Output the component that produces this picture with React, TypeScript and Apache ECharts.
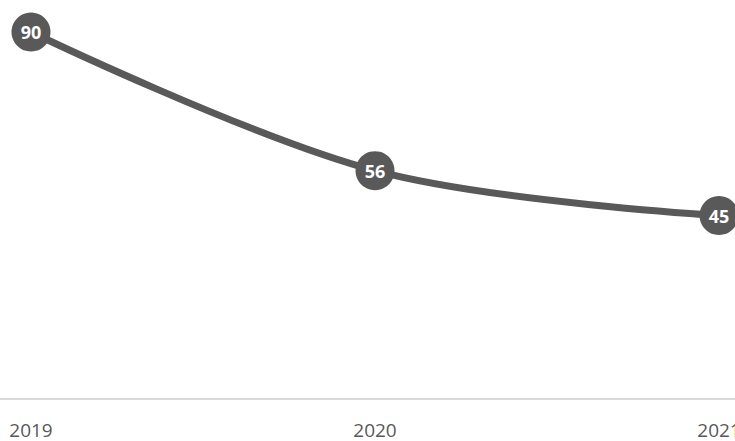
import React, { useEffect, useRef } from "react";
import * as echarts from "echarts";

const categories = ["2019", "2020", "2021"];
const values = [90, 56, 45];

export default function App() {
  const ref = useRef<HTMLDivElement>(null);
  useEffect(() => {
    if (!ref.current) return;
    const chart = echarts.init(ref.current, undefined, { renderer: "svg" });
    chart.setOption({
      animation: false,
      grid: { left: 0, right: 0, top: 32, bottom: 42, containLabel: false },
      xAxis: {
        type: "category",
        data: categories,
        boundaryGap: true,
        axisLine: { show: true, lineStyle: { color: "#d9d9d9", width: 2 } },
        axisTick: { show: false },
        axisLabel: {
          color: "#595959",
          fontSize: 19,
          fontFamily: "Open Sans",
          margin: 21,
        },
        splitLine: { show: false },
      },
      yAxis: {
        type: "value",
        min: 0,
        max: 90,
        show: false,
        splitLine: { show: false },
      },
      series: [
        {
          type: "line",
          data: values,
          smooth: 0.35,
          symbol: "circle",
          symbolSize: 39,
          lineStyle: { color: "#595959", width: 7 },
          itemStyle: { color: "#595959" },
          label: {
            show: true,
            position: "inside",
            color: "#ffffff",
            fontWeight: "bold",
            fontSize: 18,
            fontFamily: "Open Sans",
          },
        },
      ],
    });
    return () => chart.dispose();
  }, []);
  return (
    <div
      style={{
        position: "fixed",
        left: 0,
        top: 0,
        width: 735,
        height: 441,
        overflow: "hidden",
        background: "#ffffff",
      }}
    >
      <div
        ref={ref}
        style={{ position: "absolute", left: -141, top: 0, width: 1032, height: 441 }}
      />
    </div>
  );
}
